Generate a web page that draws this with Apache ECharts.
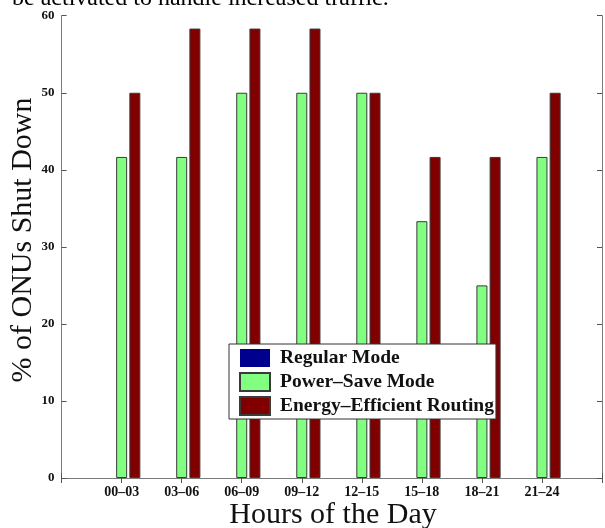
<!DOCTYPE html>
<html>
<head>
<meta charset="utf-8">
<script src="https://cdn.jsdelivr.net/npm/echarts@6/dist/echarts.min.js"></script>
<style>
html,body{margin:0;padding:0;background:#fff;}
#c{width:605px;height:528px;}
</style>
</head>
<body>
<div id="c"></div>
<script>
var categories = ['00\u201303','03\u201306','06\u201309','09\u201312','12\u201315','15\u201318','18\u201321','21\u201324'];
var regularMode = [0, 0, 0, 0, 0, 0, 0, 0];
var powerSaveMode = [41.67, 41.67, 50, 50, 50, 33.33, 25, 41.67];
var energyEfficientRouting = [50, 58.33, 58.33, 58.33, 50, 41.67, 41.67, 50];
var yTicks = [0, 10, 20, 30, 40, 50, 60];

function pad(arr, fill) { return [fill].concat(arr).concat([fill]); }
var serif = 'Liberation Serif, Times New Roman, serif';
var axisColor = '#7a7a7a';

var chart = echarts.init(document.getElementById('c'), null, {renderer: 'canvas'});
var barBorder = {borderColor: '#3a3a3a', borderWidth: 1};

chart.setOption({
  animation: false,
  backgroundColor: '#fff',
  grid: {left: 61.6, top: 15.7, width: 545.4, height: 462.3, containLabel: false},
  xAxis: [{
    type: 'category',
    data: pad(categories, ''),
    boundaryGap: false,
    axisLine: {lineStyle: {color: axisColor, width: 1}},
    axisTick: {show: true, inside: true, length: 5, interval: 0, lineStyle: {color: '#555'}},
    axisLabel: {interval: 0, margin: 7, color: '#111', fontFamily: serif, fontWeight: 'bold', fontSize: 14},
    splitLine: {show: false}
  }, {
    type: 'category',
    position: 'top',
    data: pad(categories, ''),
    boundaryGap: false,
    axisLine: {show: true, lineStyle: {color: axisColor, width: 1}},
    axisTick: {show: true, inside: true, length: 5, interval: 0, lineStyle: {color: '#555'}},
    axisLabel: {show: false},
    splitLine: {show: false}
  }],
  yAxis: [{
    type: 'value',
    min: yTicks[0], max: yTicks[yTicks.length - 1], interval: 10,
    axisLine: {show: true, lineStyle: {color: axisColor, width: 1}},
    axisTick: {show: true, inside: true, length: 5, lineStyle: {color: '#555'}},
    axisLabel: {margin: 7, color: '#111', fontFamily: serif, fontWeight: 'bold', fontSize: 13},
    splitLine: {show: false}
  }, {
    type: 'value',
    position: 'right',
    min: yTicks[0], max: yTicks[yTicks.length - 1], interval: 10,
    axisLine: {show: true, lineStyle: {color: axisColor, width: 1}},
    axisTick: {show: true, inside: true, length: 5, lineStyle: {color: '#555'}},
    axisLabel: {show: false},
    splitLine: {show: false}
  }],
  legend: {
    orient: 'vertical',
    left: 229, top: 344,
    padding: [4, 2, 3, 10],
    itemWidth: 30, itemHeight: 18, itemGap: 4,
    backgroundColor: '#fff',
    borderColor: '#333', borderWidth: 1,
    icon: 'rect',
    textStyle: {fontFamily: serif, fontWeight: 'bold', fontSize: 19.5, color: '#111', padding: [0, 0, 0, 5]},
    data: ['Regular Mode', 'Power\u2013Save Mode', 'Energy\u2013Efficient Routing']
  },
  graphic: [
    {type: 'text', left: 12, top: -13, style: {text: 'be activated to handle increased traffic.', font: '24px ' + serif, fill: '#000'}},
    {type: 'text', x: 23, y: 240, rotation: Math.PI / 2, style: {text: '% of ONUs Shut Down', font: '30px ' + serif, fill: '#111', align: 'center', verticalAlign: 'middle'}},
    {type: 'text', x: 333, y: 515, style: {text: 'Hours of the Day', font: '30px ' + serif, fill: '#111', align: 'center', verticalAlign: 'middle'}}
  ],
  series: [{
    name: 'Regular Mode', type: 'bar', barWidth: 11, barGap: '20%',
    data: pad(regularMode, '-'),
    itemStyle: {color: '#00008f', borderColor: '#222', borderWidth: 0}
  }, {
    name: 'Power\u2013Save Mode', type: 'bar', barWidth: 11, barGap: '20%',
    data: pad(powerSaveMode, '-'),
    itemStyle: Object.assign({color: '#80ff80'}, barBorder)
  }, {
    name: 'Energy\u2013Efficient Routing', type: 'bar', barWidth: 11, barGap: '20%',
    data: pad(energyEfficientRouting, '-'),
    itemStyle: Object.assign({color: '#800000'}, barBorder)
  }]
});
</script>
</body>
</html>
